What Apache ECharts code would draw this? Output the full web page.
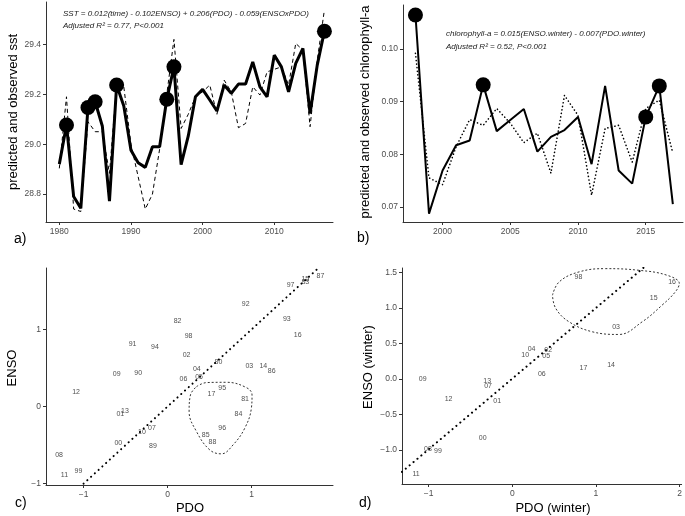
<!DOCTYPE html>
<html>
<head>
<meta charset="utf-8">
<script src="https://cdn.jsdelivr.net/npm/echarts@6/dist/echarts.min.js"></script>
<style>
  html, body { margin: 0; padding: 0; background: #fff; }
  #chart { width: 685px; height: 516px; }
</style>
</head>
<body>
<div id="chart"></div>
<script>
// a) SST observed vs predicted
const sstYears = [1980, 1981, 1982, 1983, 1984, 1985, 1986, 1987, 1988, 1989,
  1990, 1991, 1992, 1993, 1994, 1995, 1996, 1997, 1998, 1999,
  2000, 2001, 2002, 2003, 2004, 2005, 2006, 2007, 2008, 2009,
  2010, 2011, 2012, 2013, 2014, 2015, 2016, 2017]
const sstObserved = [28.92, 29.077, 28.79, 28.743, 29.147, 29.17, 29.073, 28.772, 29.237, 29.153,
  28.976, 28.926, 28.907, 28.99, 28.99, 29.18, 29.31, 28.918, 29.033, 29.19,
  29.22, 29.177, 29.133, 29.237, 29.204, 29.241, 29.241, 29.33, 29.23, 29.19,
  29.357, 29.31, 29.21, 29.324, 29.384, 29.123, 29.317, 29.453]
const sstPredicted = [28.903, 29.19, 28.74, 28.73, 29.09, 29.05, 29.05, 28.883, 29.24, 29.23,
  29.0, 28.87, 28.74, 28.8, 28.98, 29.2, 29.42, 29.063, 29.12, 29.19,
  29.21, 29.237, 29.12, 29.257, 29.21, 29.066, 29.083, 29.23, 29.197, 29.29,
  29.3, 29.31, 29.237, 29.404, 29.377, 29.07, 29.337, 29.538]
const sstHighlight = [1981, 1984, 1985, 1988, 1995, 1996, 2017]

// b) chlorophyll-a observed vs predicted
const chlYears = [1998, 1999, 2000, 2001, 2002, 2003, 2004, 2005, 2006, 2007,
  2008, 2009, 2010, 2011, 2012, 2013, 2014, 2015, 2016, 2017]
const chlObserved = [0.1065, 0.0687, 0.0769, 0.0817, 0.0826, 0.0932, 0.0844, 0.0865, 0.0886, 0.0805,
  0.0833, 0.0846, 0.0871, 0.0781, 0.0930, 0.0769, 0.0744, 0.0871, 0.0930, 0.0705]
const chlPredicted = [0.0992, 0.0755, 0.0742, 0.0814, 0.0866, 0.0855, 0.0887, 0.0859, 0.0822, 0.0840,
  0.0764, 0.0912, 0.0874, 0.0722, 0.0849, 0.0855, 0.0785, 0.0887, 0.0903, 0.0802]
const chlHighlight = [1998, 2003, 2015, 2016]

// c) PDO vs ENSO (annual), labelled by year
const annualLabels = ['87', '15', '83', '97', '92', '93', '16', '82', '98', '91',
  '94', '02', '09', '90', '04', '80', '05', '06', '03', '14',
  '86', '12', '95', '17', '81', '13', '01', '84', '07', '10',
  '96', '85', '88', '00', '89', '08', '99', '11']
const annualPDO = [1.82, 1.64, 1.64, 1.465, 0.93, 1.42, 1.55, 0.119, 0.25, -0.416,
  -0.15, 0.226, -0.606, -0.349, 0.349, 0.606, 0.376, 0.19, 0.974, 1.14,
  1.24, -1.089, 0.65, 0.523, 0.923, -0.507, -0.562, 0.844, -0.186, -0.305,
  0.65, 0.455, 0.535, -0.586, -0.174, -1.291, -1.061, -1.228]
const annualENSO = [1.69, 1.66, 1.62, 1.577, 1.326, 1.136, 0.929, 1.114, 0.916, 0.812,
  0.773, 0.67, 0.419, 0.436, 0.488, 0.575, 0.38, 0.359, 0.527, 0.527,
  0.458, 0.194, 0.246, 0.16, 0.095, -0.056, -0.1, -0.1, -0.281, -0.328,
  -0.281, -0.371, -0.454, -0.467, -0.51, -0.626, -0.842, -0.886]
const annualFitX = [-1.0, 1.8]
const annualFitY = [-1.0, 1.8]
const annualLoopX = [0.345, 0.463, 0.70, 0.939, 1.006, 0.998, 0.919, 0.78, 0.642, 0.503, 0.345, 0.257, 0.273, 0.345]
const annualLoopY = [0.259, 0.311, 0.315, 0.246, 0.151, -0.022, -0.281, -0.497, -0.613, -0.562, -0.324, -0.065, 0.151, 0.259]

// d) PDO (winter) vs ENSO (winter)
const winterLabels = ['98', '16', '15', '03', '04', '10', '02', '05', '17', '14',
  '06', '09', '13', '07', '12', '01', '00', '08', '99', '11']
const winterPDO = [0.79, 1.91, 1.69, 1.24, 0.23, 0.155, 0.43, 0.405, 0.85, 1.18,
  0.353, -1.07, -0.30, -0.29, -0.762, -0.18, -0.353, -1.008, -0.889, -1.15]
const winterENSO = [1.44, 1.36, 1.144, 0.731, 0.427, 0.338, 0.408, 0.323, 0.15, 0.197,
  0.066, 0.0, -0.023, -0.103, -0.281, -0.309, -0.834, -0.989, -1.022, -1.336]
const winterFitX = [-1.32, 1.63]
const winterFitY = [-1.31, 1.63]
const winterLoopX = [0.48, 0.56, 0.798, 1.115, 1.512, 1.849, 1.996, 1.948, 1.79, 1.552, 1.274, 0.956, 0.679, 0.52, 0.48]
const winterLoopY = [1.181, 1.369, 1.51, 1.556, 1.533, 1.463, 1.346, 1.228, 1.041, 0.806, 0.628, 0.666, 0.806, 0.994, 1.181]

const FONT = '"Liberation Sans", Arial, sans-serif'
const minus = (s) => String(s).replace('-', '\u2212')

const zip = (xs, ys) => xs.map((x, i) => [x, ys[i]])

// 共用坐标轴样式
const axisBase = (gridIndex, min, max, ticks, fmt) => ({
  type: 'value',
  gridIndex,
  min,
  max,
  splitLine: { show: false },
  axisLine: { show: true, onZero: false, lineStyle: { color: '#333', width: 1 } },
  axisTick: { show: true, length: 3, customValues: ticks, lineStyle: { color: '#333' } },
  axisLabel: {
    customValues: ticks,
    color: '#4d4d4d',
    fontSize: 8.5,
    fontFamily: FONT,
    margin: 5,
    formatter: fmt,
  },
})

const labelSeries = (xIdx, labels, xs, ys) => ({
  type: 'scatter',
  xAxisIndex: xIdx,
  yAxisIndex: xIdx,
  symbolSize: 1,
  itemStyle: { color: 'rgba(0,0,0,0)' },
  label: {
    show: true,
    position: 'inside',
    formatter: '{b}',
    color: '#222',
    fontSize: 7,
    fontFamily: FONT,
  },
  data: labels.map((name, i) => ({ name, value: [xs[i], ys[i]] })),
  silent: true,
})

const dotLine = (xIdx, xs, ys) => ({
  type: 'line',
  xAxisIndex: xIdx,
  yAxisIndex: xIdx,
  symbol: 'none',
  lineStyle: { color: '#000', width: 2, type: [0.1, 5], cap: 'round' },
  data: zip(xs, ys),
  silent: true,
})

const loopLine = (xIdx, xs, ys) => ({
  type: 'line',
  xAxisIndex: xIdx,
  yAxisIndex: xIdx,
  symbol: 'none',
  smooth: 0.4,
  lineStyle: { color: '#333', width: 1, type: [2, 2] },
  data: zip(xs, ys),
  silent: true,
})

// 文字：x/y 为文字中心点
const textEl = (text, x, y, opts = {}) => ({
  type: 'text',
  x,
  y,
  rotation: opts.rotation || 0,
  style: {
    text,
    fill: opts.color || '#000',
    font: `${opts.italic ? 'italic ' : ''}${opts.size || 13}px ${FONT}`,
    align: opts.align || 'left',
    verticalAlign: 'middle',
  },
})

const chart = echarts.init(document.getElementById('chart'))

const option = {
  backgroundColor: '#fff',
  animation: false,
  grid: [
    { left: 46, top: 2, right: 352, bottom: 294 },
    { left: 403, top: 5, right: 2, bottom: 294 },
    { left: 46, top: 268, right: 352, bottom: 31 },
    { left: 402, top: 268, right: 2, bottom: 32 },
  ],
  xAxis: [
    axisBase(0, 1978.14, 2018.2, [1980, 1990, 2000, 2010], (v) => v),
    axisBase(1, 1997.08, 2017.75, [2000, 2005, 2010, 2015], (v) => v),
    axisBase(2, -1.447, 1.97, [-1, 0, 1], (v) => minus(v)),
    axisBase(3, -1.318, 2.024, [-1, 0, 1, 2], (v) => minus(v)),
  ],
  yAxis: [
    axisBase(0, 28.688, 29.57, [28.8, 29.0, 29.2, 29.4], (v) => v.toFixed(1)),
    axisBase(1, 0.0671, 0.1084, [0.07, 0.08, 0.09, 0.1], (v) => v.toFixed(2)),
    axisBase(2, -1.017, 1.797, [-1, 0, 1], (v) => minus(v)),
    axisBase(3, -1.48, 1.565, [-1, -0.5, 0, 0.5, 1, 1.5], (v) => minus(v.toFixed(1))),
  ],
  graphic: [
    textEl('predicted and observed sst', 13, 112, { rotation: Math.PI / 2, align: 'center' }),
    textEl('predicted and observed chlorophyll-a', 365, 112, { rotation: Math.PI / 2, align: 'center' }),
    textEl('ENSO', 12, 368, { rotation: Math.PI / 2, align: 'center' }),
    textEl('ENSO (winter)', 368, 367, { rotation: Math.PI / 2, align: 'center' }),
    textEl('PDO', 190, 508, { align: 'center' }),
    textEl('PDO (winter)', 553, 508, { align: 'center' }),
    textEl('a)', 14, 239, { size: 14 }),
    textEl('b)', 357, 238, { size: 14 }),
    textEl('c)', 15, 503, { size: 14 }),
    textEl('d)', 359, 503, { size: 14 }),
    textEl('SST = 0.012(time) - 0.102ENSO) + 0.206(PDO) - 0.059(ENSOxPDO)', 63, 14, { size: 8, italic: true, color: '#222' }),
    textEl('Adjusted R\u00B2 = 0.77, P<0.001', 63, 26, { size: 8, italic: true, color: '#222' }),
    textEl('chlorophyll-a = 0.015(ENSO.winter) - 0.007(PDO.winter)', 446, 34, { size: 8, italic: true, color: '#222' }),
    textEl('Adjusted R\u00B2 = 0.52, P<0.001', 446, 47, { size: 8, italic: true, color: '#222' }),
  ],
  series: [
    {
      name: 'predicted sst',
      type: 'line',
      xAxisIndex: 0,
      yAxisIndex: 0,
      symbol: 'none',
      lineStyle: { color: '#000', width: 1, type: [4, 3] },
      data: zip(sstYears, sstPredicted),
    },
    {
      name: 'observed sst',
      type: 'line',
      xAxisIndex: 0,
      yAxisIndex: 0,
      symbol: 'none',
      lineStyle: { color: '#000', width: 3 },
      data: zip(sstYears, sstObserved),
    },
    {
      type: 'scatter',
      xAxisIndex: 0,
      yAxisIndex: 0,
      symbolSize: 15,
      itemStyle: { color: '#000', opacity: 1 },
      data: sstHighlight.map((y) => [y, sstObserved[sstYears.indexOf(y)]]),
    },
    {
      name: 'predicted chl',
      type: 'line',
      xAxisIndex: 1,
      yAxisIndex: 1,
      symbol: 'none',
      lineStyle: { color: '#000', width: 1.6, type: [0.1, 3.5], cap: 'round' },
      data: zip(chlYears, chlPredicted),
    },
    {
      name: 'observed chl',
      type: 'line',
      xAxisIndex: 1,
      yAxisIndex: 1,
      symbol: 'none',
      lineStyle: { color: '#000', width: 2 },
      data: zip(chlYears, chlObserved),
    },
    {
      type: 'scatter',
      xAxisIndex: 1,
      yAxisIndex: 1,
      symbolSize: 15,
      itemStyle: { color: '#000', opacity: 1 },
      data: chlHighlight.map((y) => [y, chlObserved[chlYears.indexOf(y)]]),
    },
    dotLine(2, annualFitX, annualFitY),
    loopLine(2, annualLoopX, annualLoopY),
    labelSeries(2, annualLabels, annualPDO, annualENSO),
    dotLine(3, winterFitX, winterFitY),
    loopLine(3, winterLoopX, winterLoopY),
    labelSeries(3, winterLabels, winterPDO, winterENSO),
  ],
}

chart.setOption(option)
</script>
</body>
</html>
